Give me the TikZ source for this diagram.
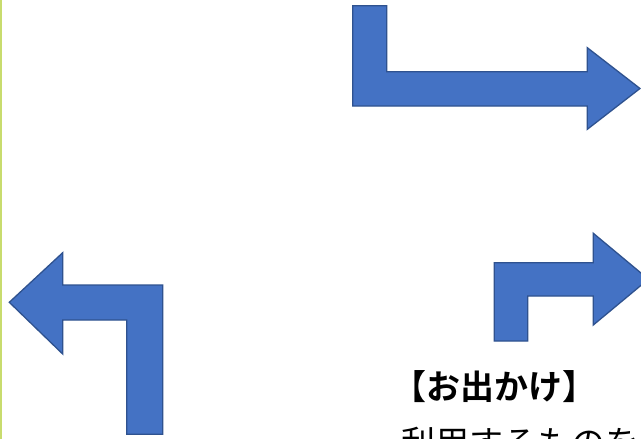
\documentclass[tikz,border=0pt]{standalone}
\usepackage{fontspec}
\newfontfamily\jpfont{Noto Sans CJK JP}
\newfontfamily\jpbold{Noto Sans CJK JP Bold}
\definecolor{arrowfill}{RGB}{68,114,196}
\definecolor{arrowline}{RGB}{47,82,143}
\definecolor{sideline}{RGB}{200,220,110}
\tikzset{
  bentarrow/.style={fill=arrowfill, draw=arrowline, line width=1.3pt, line join=miter},
  jptext/.style={inner sep=0pt, anchor=base west, font=\jpfont\fontsize{34}{40}\selectfont},
  jptitle/.style={inner sep=0pt, anchor=base west, font=\jpbold\fontsize{34}{40}\selectfont}
}
\begin{document}
\begin{tikzpicture}[x=1pt,y=-1pt]
\useasboundingbox (0,0) rectangle (641,439);
\clip (0,0) rectangle (641,439);
\fill[white] (0,0) rectangle (641,439);
% left margin line
\draw[sideline, line width=1.5pt] (0.8,0) -- (0.8,439);
% top arrow
\draw[bentarrow] (352.7,5.7) -- (386.7,5.7) -- (386.7,71.7) -- (587.3,71.7) -- (587.3,47.7)
  -- (640,88.5) -- (587.3,129.3) -- (587.3,106) -- (352.7,106) -- cycle;
% bottom right arrow
\draw[bentarrow] (494.3,341) -- (494.3,262.7) -- (593.3,262.7) -- (593.3,233.3)
  -- (648.4,279.2) -- (593.3,325) -- (593.3,296) -- (527.7,296) -- (527.7,341) -- cycle;
% bottom left arrow
\draw[bentarrow] (162.7,434.3) -- (162.7,285) -- (62.7,285) -- (62.7,252.7)
  -- (9.3,302.3) -- (62.7,354) -- (62.7,320) -- (126.7,320) -- (126.7,434.3) -- cycle;
% texts
\node[jptitle] (title) at (392,399) {【お出かけ】};
\node[jptext] (body) at (401,455) {利用するものを};
\end{tikzpicture}
\end{document}
